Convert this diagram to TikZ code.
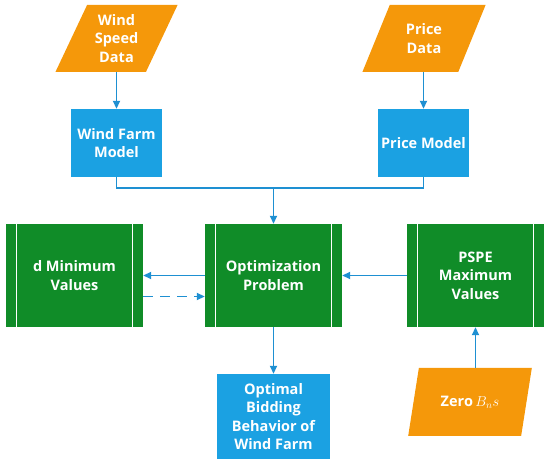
\documentclass[tikz,border=0pt]{standalone}
\usepackage{fontspec}
\setmainfont{Open Sans}
\usetikzlibrary{arrows.meta,shapes.geometric,positioning,calc}
\definecolor{dataorange}{RGB}{245,152,10}
\definecolor{modelblue}{RGB}{27,161,226}
\definecolor{procgreen}{RGB}{16,140,40}
\definecolor{arrowblue}{RGB}{30,144,210}

\begin{document}
\begin{tikzpicture}[x=1pt, y=-1pt,
    txt/.style={text=white, font=\fontsize{14.5}{18.4}\selectfont\bfseries, align=center, inner sep=0pt},
    data/.style={txt, trapezium, trapezium left angle=64, trapezium right angle=116, trapezium stretches=true, fill=dataorange, minimum width=#1, minimum height=67pt},
    model/.style={txt, rectangle, fill=modelblue, minimum width=91pt, minimum height=68pt},
    proc/.style={txt, rectangle, fill=procgreen, minimum width=137pt, minimum height=103pt,
        path picture={
            \draw[white, line width=0.9pt] ([xshift=10.5pt]path picture bounding box.north west) -- ([xshift=10.5pt]path picture bounding box.south west);
            \draw[white, line width=0.9pt] ([xshift=-10.5pt]path picture bounding box.north east) -- ([xshift=-10.5pt]path picture bounding box.south east);
        }},
    arr/.style={-{Triangle[length=8pt, width=7pt]}, line width=1.8pt, draw=arrowblue},
    darr/.style={arr, dash pattern=on 10pt off 7pt},
    lin/.style={line width=1.8pt, draw=arrowblue}
]
\useasboundingbox (0,0) rectangle (550,465);

% inputs and models
\node[data=123pt] (wsd) at (116.5,38.5) {Wind\\Speed\\Data};
\node[model] (wfm) at (116.5,143) {Wind Farm\\Model};
\node[data=124pt] (pd) at (424,38.5) {Price\\Data};
\node[model] (pm) at (423.5,143) {Price Model};

% processes
\node[proc] (dmin) at (74.5,275.5) {d Minimum\\Values};
\node[proc] (opt) at (273.5,275.5) {Optimization\\Problem};
\node[proc] (pspe) at (475.5,275.5) {PSPE\\Maximum\\Values};

\node[model, minimum width=113pt, minimum height=85pt] (obb) at (273.5,416.5) {Optimal\\Bidding\\Behavior of\\Wind Farm};
\node[data=124pt, minimum height=68pt] (zero) at (470,402) {Zero\,$B_n s$};

\coordinate (junc) at (273.5,188);

\draw[arr] (wsd.south -| wfm.north) -- (wfm.north);
\draw[arr] (pd.south -| pm.north) -- (pm.north);
\draw[lin] (wfm.south) |- (junc);
\draw[lin] (pm.south) |- (junc);
\draw[arr] (junc) -- (opt.north);
\draw[arr] (opt.west) -- (dmin.east);
\draw[darr] ([yshift=-21pt]dmin.east) -- ([yshift=-21pt]opt.west);
\draw[arr] (pspe.west) -- (opt.east);
\draw[arr] (opt.south) -- (obb.north);
\draw[arr] (zero.north -| pspe.south) -- (pspe.south);
\end{tikzpicture}
\end{document}
